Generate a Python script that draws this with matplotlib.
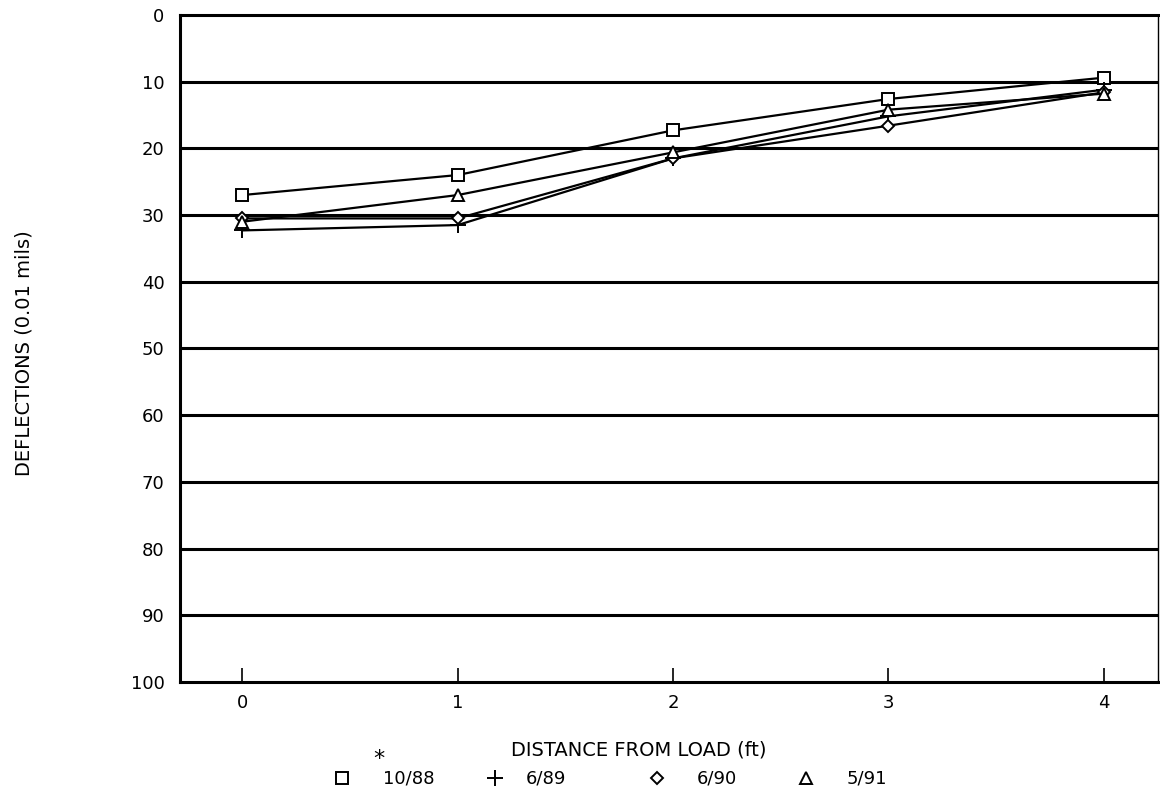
import matplotlib
matplotlib.use("Agg")
import matplotlib.pyplot as plt
from matplotlib.lines import Line2D

# deflection readings at each sensor distance
distance = [0, 1, 2, 3, 4]
defl_1088 = [27.0, 24.0, 17.3, 12.6, 9.4]
defl_689 = [32.3, 31.5, 21.5, 15.2, 11.2]
defl_690 = [30.5, 30.5, 21.5, 16.6, 11.6]
defl_591 = [31.0, 27.0, 20.6, 14.2, 11.8]
series_labels = ["10/88", "6/89", "6/90", "5/91"]
y_ticks = [0, 10, 20, 30, 40, 50, 60, 70, 80, 90, 100]

plt.rcParams["font.family"] = ["DejaVu Sans"]

fig = plt.figure(figsize=(11.6, 8.09), dpi=100)
ax = fig.add_axes([0.155, 0.157, 0.843, 0.8245])

for y in y_ticks[1:-1]:
    ax.axhline(y, color="black", linewidth=2.2, zorder=1)

styles = [
    (defl_1088, "s", 8),
    (defl_689, "+", 11),
    (defl_690, "D", 6),
    (defl_591, "^", 8),
]
for vals, mk, ms in styles:
    ax.plot(distance, vals, color="black", linewidth=1.6, marker=mk,
            markersize=ms, markerfacecolor="white", markeredgecolor="black",
            markeredgewidth=1.4, zorder=3)

ax.set_xlim(-0.29, 4.25)
ax.set_ylim(100, 0)
ax.set_xticks(distance)
ax.set_yticks(y_ticks)
ax.tick_params(axis="x", direction="in", length=10, width=1.2, pad=9,
               labelsize=13)
ax.tick_params(axis="y", length=0, pad=11, labelsize=13)

for side in ["left", "bottom", "top"]:
    ax.spines[side].set_linewidth(2.2)
ax.spines["right"].set_linewidth(1.0)

# axis titles set as figure text so they can sit off-centre like the plotter output
fig.text(0.551, 0.073, "DISTANCE FROM LOAD (ft)", fontsize=14,
         ha="center", va="center")
fig.text(0.021, 0.563, "DEFLECTIONS (0.01 mils)", rotation=90,
         ha="center", va="center", fontsize=14)

# key row under the axis title: symbol, then date
key_y = 0.038
marker_x = [0.295, 0.427, 0.566, 0.695]
label_x = [0.330, 0.453, 0.601, 0.730]
for (_, mk, ms), lab, mx, lx in zip(styles, series_labels, marker_x, label_x):
    fig.add_artist(Line2D([mx], [key_y], transform=fig.transFigure,
                          linestyle="none", marker=mk, markersize=ms,
                          markerfacecolor="white", markeredgecolor="black",
                          markeredgewidth=1.4))
    fig.text(lx, key_y, lab, fontsize=13, ha="left", va="center")
fig.text(0.327, 0.062, "*", fontsize=16, ha="center", va="center")

fig.savefig("out.png", dpi=100, facecolor="white")
